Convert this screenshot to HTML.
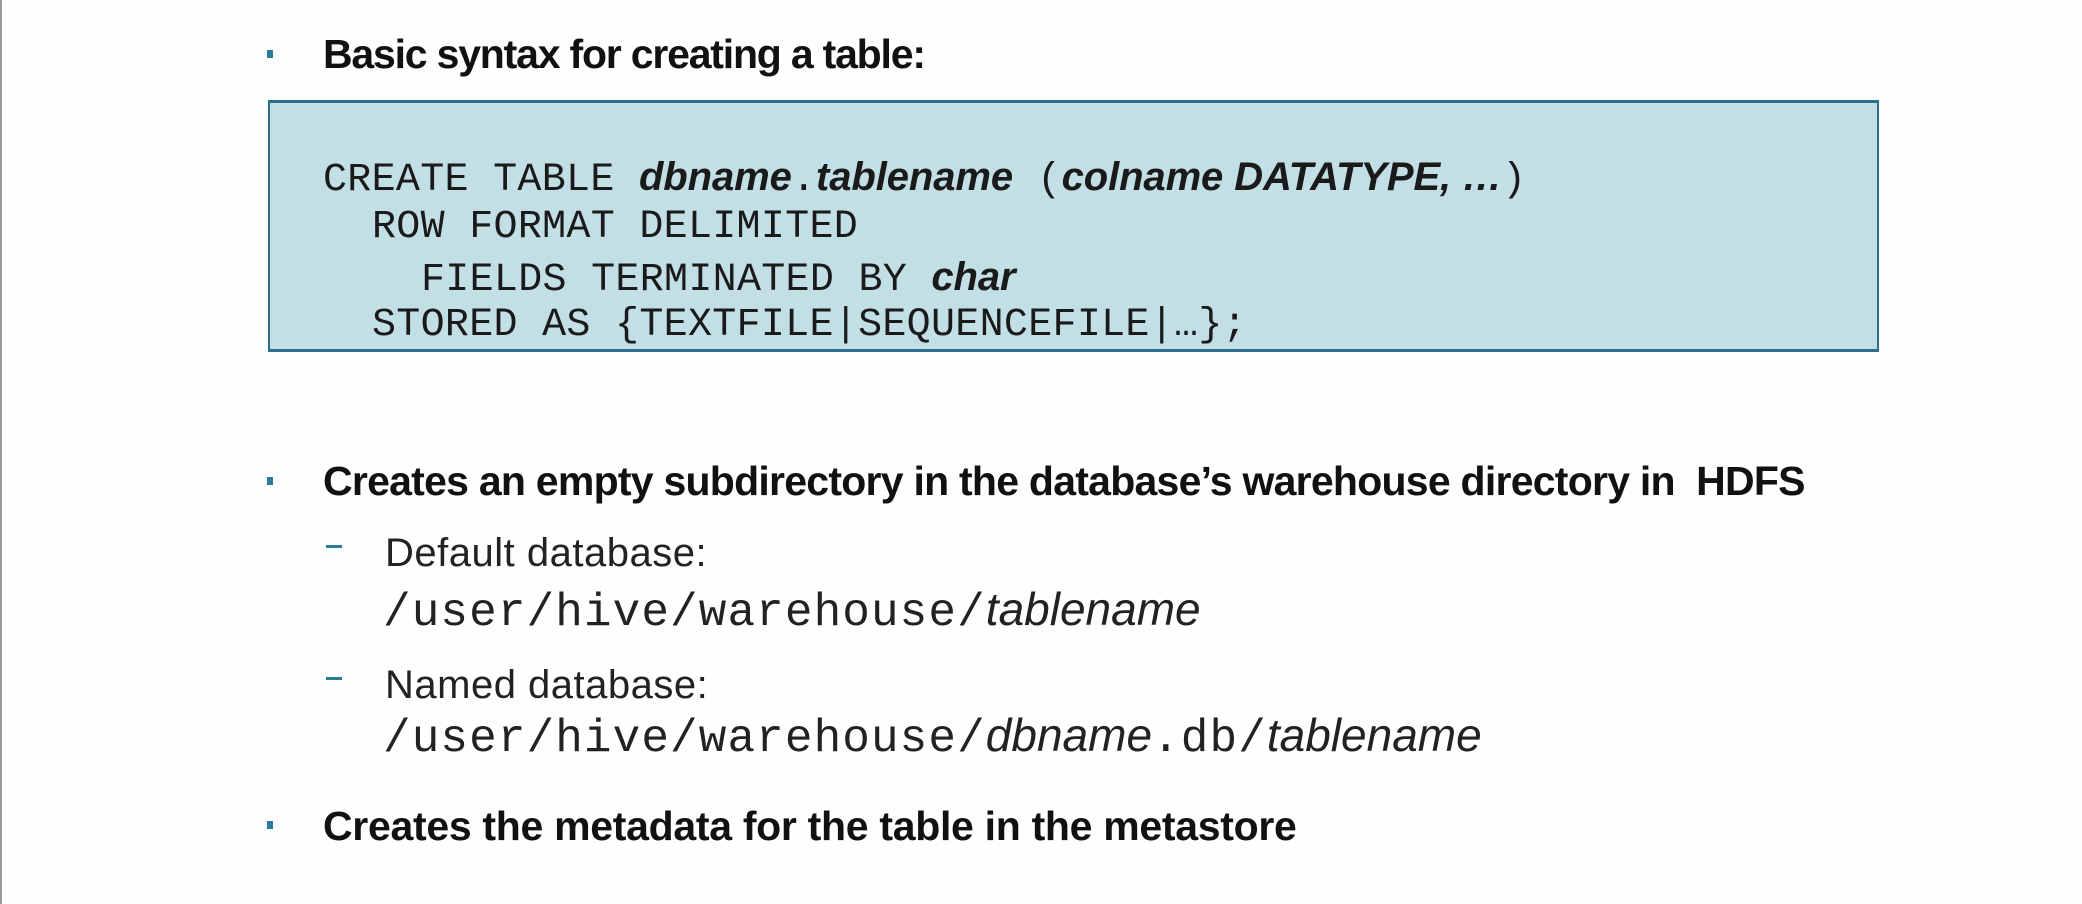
<!DOCTYPE html>
<html><head><meta charset="utf-8"><style>
html,body{margin:0;padding:0}
body{width:2082px;height:904px;background:#fdfefe;position:relative;overflow:hidden;font-family:"Liberation Sans",sans-serif}
.edge{position:absolute;left:0;top:0;width:2px;height:904px;background:#999}
.b{position:absolute;font-weight:bold;font-size:41px;letter-spacing:-0.3px;color:#111;white-space:nowrap;line-height:1}
.dot{position:absolute;width:6px;height:8px;background:#2a7a98}
.dash{position:absolute;width:16px;height:3px;background:#2a7a98}
.s{position:absolute;font-size:40px;letter-spacing:0.5px;color:#222;white-space:nowrap;line-height:1}
.p{position:absolute;font-family:"Liberation Mono",monospace;font-size:46px;letter-spacing:1.1px;color:#222;white-space:nowrap;line-height:1}
.p i{font-family:"Liberation Sans",sans-serif;letter-spacing:0}
.box{position:absolute;left:268px;top:100px;width:1607px;height:246px;background:#c3dfe6;border:2px solid #2c6f8c;border-top-width:3px;border-bottom-width:3px}
.c{position:absolute;font-family:"Liberation Mono",monospace;font-size:40px;letter-spacing:0.3px;color:#1a1a1a;white-space:nowrap;line-height:1}
.c b{font-family:"Liberation Sans",sans-serif;font-style:italic;letter-spacing:-0.1px}
</style></head><body>
<div class="edge"></div>
<div class="dot" style="left:267px;top:50px"></div>
<div class="b" style="left:323px;top:34px;letter-spacing:-1.2px">Basic syntax for creating a table:</div>
<div class="box"></div>
<div class="c" style="left:323px;top:157px">CREATE TABLE <b>dbname</b>.<b>tablename</b> (<b>colname DATATYPE, …</b>)</div>
<div class="c" style="left:372px;top:208px">ROW FORMAT DELIMITED</div>
<div class="c" style="left:421px;top:257px">FIELDS TERMINATED BY <b>char</b></div>
<div class="c" style="left:372px;top:306px">STORED AS {TEXTFILE|SEQUENCEFILE|…};</div>
<div class="dot" style="left:267px;top:477px"></div>
<div class="b" style="left:323px;top:461px;letter-spacing:-0.75px">Creates an empty subdirectory in the database’s warehouse directory in&nbsp; HDFS</div>
<div class="dash" style="left:326px;top:545px"></div>
<div class="s" style="left:385px;top:533px">Default database:</div>
<div class="p" style="left:383px;top:586px">/user/hive/warehouse/<i>tablename</i></div>
<div class="dash" style="left:326px;top:677px"></div>
<div class="s" style="left:385px;top:665px">Named database:</div>
<div class="p" style="left:383px;top:712px">/user/hive/warehouse/<i>dbname</i>.db/<i>tablename</i></div>
<div class="dot" style="left:267px;top:821px"></div>
<div class="b" style="left:323px;top:806px">Creates the metadata for the table in the metastore</div>
</body></html>
